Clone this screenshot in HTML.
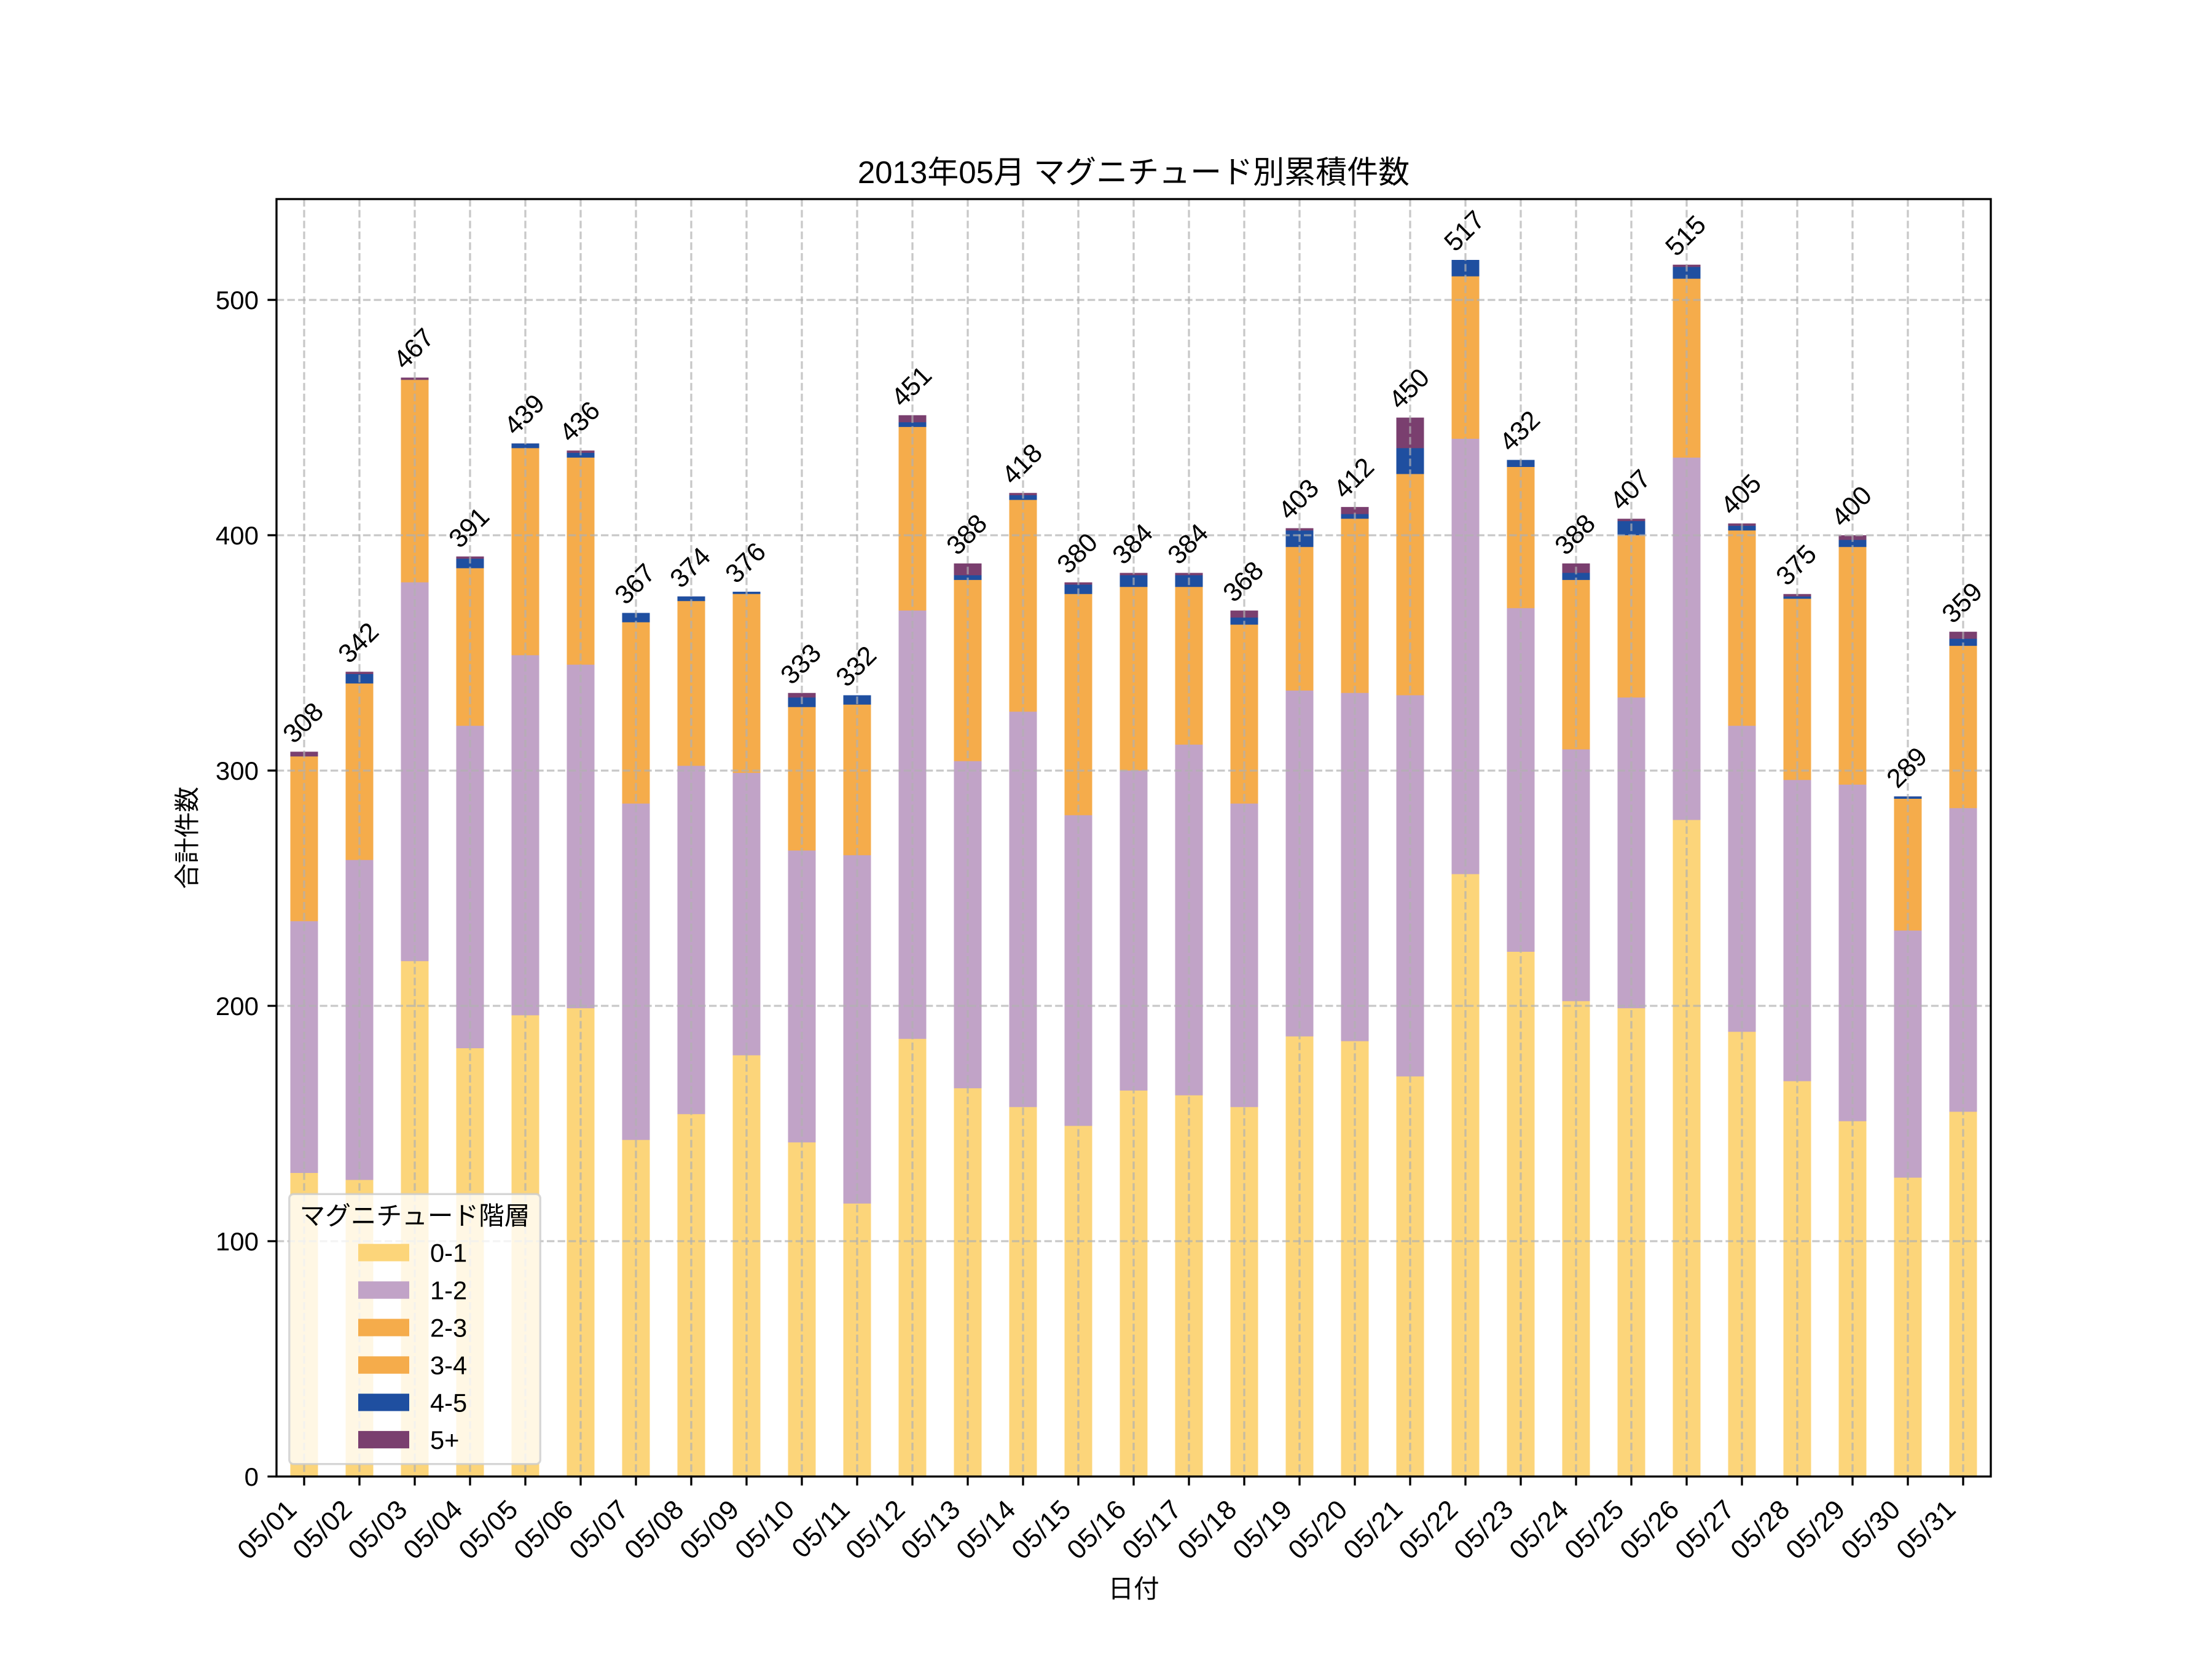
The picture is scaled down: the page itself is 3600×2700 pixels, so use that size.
<!DOCTYPE html>
<html><head><meta charset="utf-8"><style>
html,body{margin:0;padding:0;background:#fff;width:3600px;height:2700px;overflow:hidden;}
svg{display:block;}
.t{font-family:"Liberation Sans","Noto Sans CJK JP",sans-serif;fill:#000;}
</style></head><body>
<svg xmlns="http://www.w3.org/2000/svg" width="3600" height="2700" viewBox="0 0 3600 2700">
<rect x="0" y="0" width="3600" height="2700" fill="#fff"/>
<!-- 5+ -->
<path fill="#7A3F6F" d="M472.5 1223.4V2403h45V1223.4zM562.5 1093.2V2403h45V1093.2zM652.5 614.5V2403h45V614.5zM742.5 905.6V2403h45V905.6zM832.5 721.7V2403h45V721.7zM922.5 733.2V2403h45V733.2zM1012.5 997.5V2403h45V997.5zM1102.5 970.7V2403h45V970.7zM1192.5 963.0V2403h45V963.0zM1282.5 1127.7V2403h45V1127.7zM1372.5 1131.5V2403h45V1131.5zM1462.5 675.8V2403h45V675.8zM1552.5 917.0V2403h45V917.0zM1642.5 802.2V2403h45V802.2zM1732.5 947.7V2403h45V947.7zM1822.5 932.4V2403h45V932.4zM1912.5 932.4V2403h45V932.4zM2002.5 993.6V2403h45V993.6zM2092.5 859.6V2403h45V859.6zM2182.5 825.1V2403h45V825.1zM2272.5 679.6V2403h45V679.6zM2362.5 423.0V2403h45V423.0zM2452.5 748.5V2403h45V748.5zM2542.5 917.0V2403h45V917.0zM2632.5 844.3V2403h45V844.3zM2722.5 430.7V2403h45V430.7zM2812.5 851.9V2403h45V851.9zM2902.5 966.8V2403h45V966.8zM2992.5 871.1V2403h45V871.1zM3082.5 1296.2V2403h45V1296.2zM3172.5 1028.1V2403h45V1028.1z"/>
<!-- 4-5 -->
<path fill="#1F4FA0" d="M472.5 1231.1V2403h45V1231.1zM562.5 1097.0V2403h45V1097.0zM652.5 618.3V2403h45V618.3zM742.5 909.4V2403h45V909.4zM832.5 721.7V2403h45V721.7zM922.5 737.0V2403h45V737.0zM1012.5 997.5V2403h45V997.5zM1102.5 970.7V2403h45V970.7zM1192.5 963.0V2403h45V963.0zM1282.5 1135.3V2403h45V1135.3zM1372.5 1131.5V2403h45V1131.5zM1462.5 687.3V2403h45V687.3zM1552.5 936.2V2403h45V936.2zM1642.5 806.0V2403h45V806.0zM1732.5 951.5V2403h45V951.5zM1822.5 936.2V2403h45V936.2zM1912.5 936.2V2403h45V936.2zM2002.5 1005.1V2403h45V1005.1zM2092.5 863.4V2403h45V863.4zM2182.5 836.6V2403h45V836.6zM2272.5 729.4V2403h45V729.4zM2362.5 423.0V2403h45V423.0zM2452.5 748.5V2403h45V748.5zM2542.5 932.4V2403h45V932.4zM2632.5 848.1V2403h45V848.1zM2722.5 434.5V2403h45V434.5zM2812.5 855.8V2403h45V855.8zM2902.5 970.7V2403h45V970.7zM2992.5 878.7V2403h45V878.7zM3082.5 1296.2V2403h45V1296.2zM3172.5 1039.6V2403h45V1039.6z"/>
<!-- 2-3 / 3-4 -->
<path fill="#F5AC4B" d="M472.5 1231.1V2403h45V1231.1zM562.5 1112.4V2403h45V1112.4zM652.5 618.3V2403h45V618.3zM742.5 924.7V2403h45V924.7zM832.5 729.4V2403h45V729.4zM922.5 744.7V2403h45V744.7zM1012.5 1012.8V2403h45V1012.8zM1102.5 978.3V2403h45V978.3zM1192.5 966.8V2403h45V966.8zM1282.5 1150.7V2403h45V1150.7zM1372.5 1146.8V2403h45V1146.8zM1462.5 694.9V2403h45V694.9zM1552.5 943.9V2403h45V943.9zM1642.5 813.6V2403h45V813.6zM1732.5 966.8V2403h45V966.8zM1822.5 955.3V2403h45V955.3zM1912.5 955.3V2403h45V955.3zM2002.5 1016.6V2403h45V1016.6zM2092.5 890.2V2403h45V890.2zM2182.5 844.3V2403h45V844.3zM2272.5 771.5V2403h45V771.5zM2362.5 449.8V2403h45V449.8zM2452.5 760.0V2403h45V760.0zM2542.5 943.9V2403h45V943.9zM2632.5 871.1V2403h45V871.1zM2722.5 453.6V2403h45V453.6zM2812.5 863.4V2403h45V863.4zM2902.5 974.5V2403h45V974.5zM2992.5 890.2V2403h45V890.2zM3082.5 1300.0V2403h45V1300.0zM3172.5 1051.1V2403h45V1051.1z"/>
<!-- 1-2 -->
<path fill="#C1A3C7" d="M472.5 1499.2V2403h45V1499.2zM562.5 1399.6V2403h45V1399.6zM652.5 947.7V2403h45V947.7zM742.5 1181.3V2403h45V1181.3zM832.5 1066.4V2403h45V1066.4zM922.5 1081.7V2403h45V1081.7zM1012.5 1307.7V2403h45V1307.7zM1102.5 1246.4V2403h45V1246.4zM1192.5 1257.9V2403h45V1257.9zM1282.5 1384.3V2403h45V1384.3zM1372.5 1391.9V2403h45V1391.9zM1462.5 993.6V2403h45V993.6zM1552.5 1238.7V2403h45V1238.7zM1642.5 1158.3V2403h45V1158.3zM1732.5 1326.8V2403h45V1326.8zM1822.5 1254.1V2403h45V1254.1zM1912.5 1211.9V2403h45V1211.9zM2002.5 1307.7V2403h45V1307.7zM2092.5 1123.9V2403h45V1123.9zM2182.5 1127.7V2403h45V1127.7zM2272.5 1131.5V2403h45V1131.5zM2362.5 714.1V2403h45V714.1zM2452.5 989.8V2403h45V989.8zM2542.5 1219.6V2403h45V1219.6zM2632.5 1135.3V2403h45V1135.3zM2722.5 744.7V2403h45V744.7zM2812.5 1181.3V2403h45V1181.3zM2902.5 1269.4V2403h45V1269.4zM2992.5 1277.0V2403h45V1277.0zM3082.5 1514.5V2403h45V1514.5zM3172.5 1315.3V2403h45V1315.3z"/>
<!-- 0-1 -->
<path fill="#FCD57A" d="M472.5 1909.0V2403h45V1909.0zM562.5 1920.4V2403h45V1920.4zM652.5 1564.3V2403h45V1564.3zM742.5 1706.0V2403h45V1706.0zM832.5 1652.4V2403h45V1652.4zM922.5 1640.9V2403h45V1640.9zM1012.5 1855.3V2403h45V1855.3zM1102.5 1813.2V2403h45V1813.2zM1192.5 1717.5V2403h45V1717.5zM1282.5 1859.2V2403h45V1859.2zM1372.5 1958.7V2403h45V1958.7zM1462.5 1690.7V2403h45V1690.7zM1552.5 1771.1V2403h45V1771.1zM1642.5 1801.7V2403h45V1801.7zM1732.5 1832.4V2403h45V1832.4zM1822.5 1774.9V2403h45V1774.9zM1912.5 1782.6V2403h45V1782.6zM2002.5 1801.7V2403h45V1801.7zM2092.5 1686.8V2403h45V1686.8zM2182.5 1694.5V2403h45V1694.5zM2272.5 1751.9V2403h45V1751.9zM2362.5 1422.6V2403h45V1422.6zM2452.5 1549.0V2403h45V1549.0zM2542.5 1629.4V2403h45V1629.4zM2632.5 1640.9V2403h45V1640.9zM2722.5 1334.5V2403h45V1334.5zM2812.5 1679.2V2403h45V1679.2zM2902.5 1759.6V2403h45V1759.6zM2992.5 1824.7V2403h45V1824.7zM3082.5 1916.6V2403h45V1916.6zM3172.5 1809.4V2403h45V1809.4z"/>
<!-- grid -->
<g stroke="#b0b0b0" stroke-opacity="0.7" stroke-width="3.3" stroke-dasharray="12.3,5.3" fill="none">
<path d="M450 488.1H3240M450 871.1H3240M450 1254.1H3240M450 1637.0H3240M450 2020.0H3240"/>
<path d="M495 324V2403M585 324V2403M675 324V2403M765 324V2403M855 324V2403M945 324V2403M1035 324V2403M1125 324V2403M1215 324V2403M1305 324V2403M1395 324V2403M1485 324V2403M1575 324V2403M1665 324V2403M1755 324V2403M1845 324V2403M1935 324V2403M2025 324V2403M2115 324V2403M2205 324V2403M2295 324V2403M2385 324V2403M2475 324V2403M2565 324V2403M2655 324V2403M2745 324V2403M2835 324V2403M2925 324V2403M3015 324V2403M3105 324V2403M3195 324V2403"/>
</g>
<!-- annotations -->
<g class="t" font-size="43" text-anchor="middle">
<text transform="translate(503.6,1186.5) rotate(-45)">308</text>
<text transform="translate(593.6,1056.3) rotate(-45)">342</text>
<text transform="translate(683.6,577.6) rotate(-45)">467</text>
<text transform="translate(773.6,868.7) rotate(-45)">391</text>
<text transform="translate(863.6,684.8) rotate(-45)">439</text>
<text transform="translate(953.6,696.3) rotate(-45)">436</text>
<text transform="translate(1043.6,960.6) rotate(-45)">367</text>
<text transform="translate(1133.6,933.8) rotate(-45)">374</text>
<text transform="translate(1223.6,926.1) rotate(-45)">376</text>
<text transform="translate(1313.6,1090.8) rotate(-45)">333</text>
<text transform="translate(1403.6,1094.6) rotate(-45)">332</text>
<text transform="translate(1493.6,638.9) rotate(-45)">451</text>
<text transform="translate(1583.6,880.1) rotate(-45)">388</text>
<text transform="translate(1673.6,765.3) rotate(-45)">418</text>
<text transform="translate(1763.6,910.8) rotate(-45)">380</text>
<text transform="translate(1853.6,895.5) rotate(-45)">384</text>
<text transform="translate(1943.6,895.5) rotate(-45)">384</text>
<text transform="translate(2033.6,956.7) rotate(-45)">368</text>
<text transform="translate(2123.6,822.7) rotate(-45)">403</text>
<text transform="translate(2213.6,788.2) rotate(-45)">412</text>
<text transform="translate(2303.6,642.7) rotate(-45)">450</text>
<text transform="translate(2393.6,386.1) rotate(-45)">517</text>
<text transform="translate(2483.6,711.6) rotate(-45)">432</text>
<text transform="translate(2573.6,880.1) rotate(-45)">388</text>
<text transform="translate(2663.6,807.4) rotate(-45)">407</text>
<text transform="translate(2753.6,393.8) rotate(-45)">515</text>
<text transform="translate(2843.6,815.0) rotate(-45)">405</text>
<text transform="translate(2933.6,929.9) rotate(-45)">375</text>
<text transform="translate(3023.6,834.2) rotate(-45)">400</text>
<text transform="translate(3113.6,1259.3) rotate(-45)">289</text>
<text transform="translate(3203.6,991.2) rotate(-45)">359</text>
</g>
<!-- legend -->
<rect x="470.8" y="1943.3" width="408.5" height="439.4" rx="7" ry="7" fill="#fff" fill-opacity="0.8" stroke="#cccccc" stroke-opacity="0.8" stroke-width="3.3"/>
<text class="t" x="675" y="1993" font-size="41.67" text-anchor="middle">マグニチュード階層</text>
<rect x="583" y="2024.4" width="83" height="28.3" fill="#FCD57A"/>
<rect x="583" y="2085.4" width="83" height="28.3" fill="#C1A3C7"/>
<rect x="583" y="2146.4" width="83" height="28.3" fill="#F5AC4B"/>
<rect x="583" y="2207.4" width="83" height="28.3" fill="#F5AC4B"/>
<rect x="583" y="2268.2" width="83" height="28.3" fill="#1F4FA0"/>
<rect x="583" y="2328.9" width="83" height="28.3" fill="#7A3F6F"/>
<g class="t" font-size="41.67">
<text x="700" y="2053.5">0-1</text>
<text x="700" y="2114.5">1-2</text>
<text x="700" y="2175.5">2-3</text>
<text x="700" y="2236.5">3-4</text>
<text x="700" y="2297.3">4-5</text>
<text x="700" y="2358">5+</text>
</g>
<!-- spines -->
<rect x="450" y="324" width="2790" height="2079" fill="none" stroke="#000" stroke-width="3.33"/>
<!-- ticks -->
<g stroke="#000" stroke-width="3.33">
<path d="M435.4 2403H450M435.4 2020.0H450M435.4 1637.0H450M435.4 1254.1H450M435.4 871.1H450M435.4 488.1H450"/>
<path d="M495 2403V2417.6M585 2403V2417.6M675 2403V2417.6M765 2403V2417.6M855 2403V2417.6M945 2403V2417.6M1035 2403V2417.6M1125 2403V2417.6M1215 2403V2417.6M1305 2403V2417.6M1395 2403V2417.6M1485 2403V2417.6M1575 2403V2417.6M1665 2403V2417.6M1755 2403V2417.6M1845 2403V2417.6M1935 2403V2417.6M2025 2403V2417.6M2115 2403V2417.6M2205 2403V2417.6M2295 2403V2417.6M2385 2403V2417.6M2475 2403V2417.6M2565 2403V2417.6M2655 2403V2417.6M2745 2403V2417.6M2835 2403V2417.6M2925 2403V2417.6M3015 2403V2417.6M3105 2403V2417.6M3195 2403V2417.6"/>
</g>
<!-- y tick labels -->
<g class="t" font-size="42" text-anchor="end">
<text x="421" y="2418">0</text>
<text x="421" y="2035">100</text>
<text x="421" y="1652">200</text>
<text x="421" y="1269">300</text>
<text x="421" y="886">400</text>
<text x="421" y="503">500</text>
</g>
<!-- x tick labels -->
<g class="t" font-size="44" text-anchor="end" letter-spacing="1">
<text transform="translate(486,2459) rotate(-45)">05/01</text>
<text transform="translate(576,2459) rotate(-45)">05/02</text>
<text transform="translate(666,2459) rotate(-45)">05/03</text>
<text transform="translate(756,2459) rotate(-45)">05/04</text>
<text transform="translate(846,2459) rotate(-45)">05/05</text>
<text transform="translate(936,2459) rotate(-45)">05/06</text>
<text transform="translate(1026,2459) rotate(-45)">05/07</text>
<text transform="translate(1116,2459) rotate(-45)">05/08</text>
<text transform="translate(1206,2459) rotate(-45)">05/09</text>
<text transform="translate(1296,2459) rotate(-45)">05/10</text>
<text transform="translate(1386,2459) rotate(-45)">05/11</text>
<text transform="translate(1476,2459) rotate(-45)">05/12</text>
<text transform="translate(1566,2459) rotate(-45)">05/13</text>
<text transform="translate(1656,2459) rotate(-45)">05/14</text>
<text transform="translate(1746,2459) rotate(-45)">05/15</text>
<text transform="translate(1836,2459) rotate(-45)">05/16</text>
<text transform="translate(1926,2459) rotate(-45)">05/17</text>
<text transform="translate(2016,2459) rotate(-45)">05/18</text>
<text transform="translate(2106,2459) rotate(-45)">05/19</text>
<text transform="translate(2196,2459) rotate(-45)">05/20</text>
<text transform="translate(2286,2459) rotate(-45)">05/21</text>
<text transform="translate(2376,2459) rotate(-45)">05/22</text>
<text transform="translate(2466,2459) rotate(-45)">05/23</text>
<text transform="translate(2556,2459) rotate(-45)">05/24</text>
<text transform="translate(2646,2459) rotate(-45)">05/25</text>
<text transform="translate(2736,2459) rotate(-45)">05/26</text>
<text transform="translate(2826,2459) rotate(-45)">05/27</text>
<text transform="translate(2916,2459) rotate(-45)">05/28</text>
<text transform="translate(3006,2459) rotate(-45)">05/29</text>
<text transform="translate(3096,2459) rotate(-45)">05/30</text>
<text transform="translate(3186,2459) rotate(-45)">05/31</text>
</g>
<!-- axis labels & title -->
<text class="t" x="1845" y="2600" font-size="41.67" text-anchor="middle">日付</text>
<text class="t" transform="translate(319,1363.5) rotate(-90)" font-size="41.67" text-anchor="middle">合計件数</text>
<text class="t" x="1845" y="298" font-size="51" text-anchor="middle">2013年05月 マグニチュード別累積件数</text>
</svg>
</body></html>
